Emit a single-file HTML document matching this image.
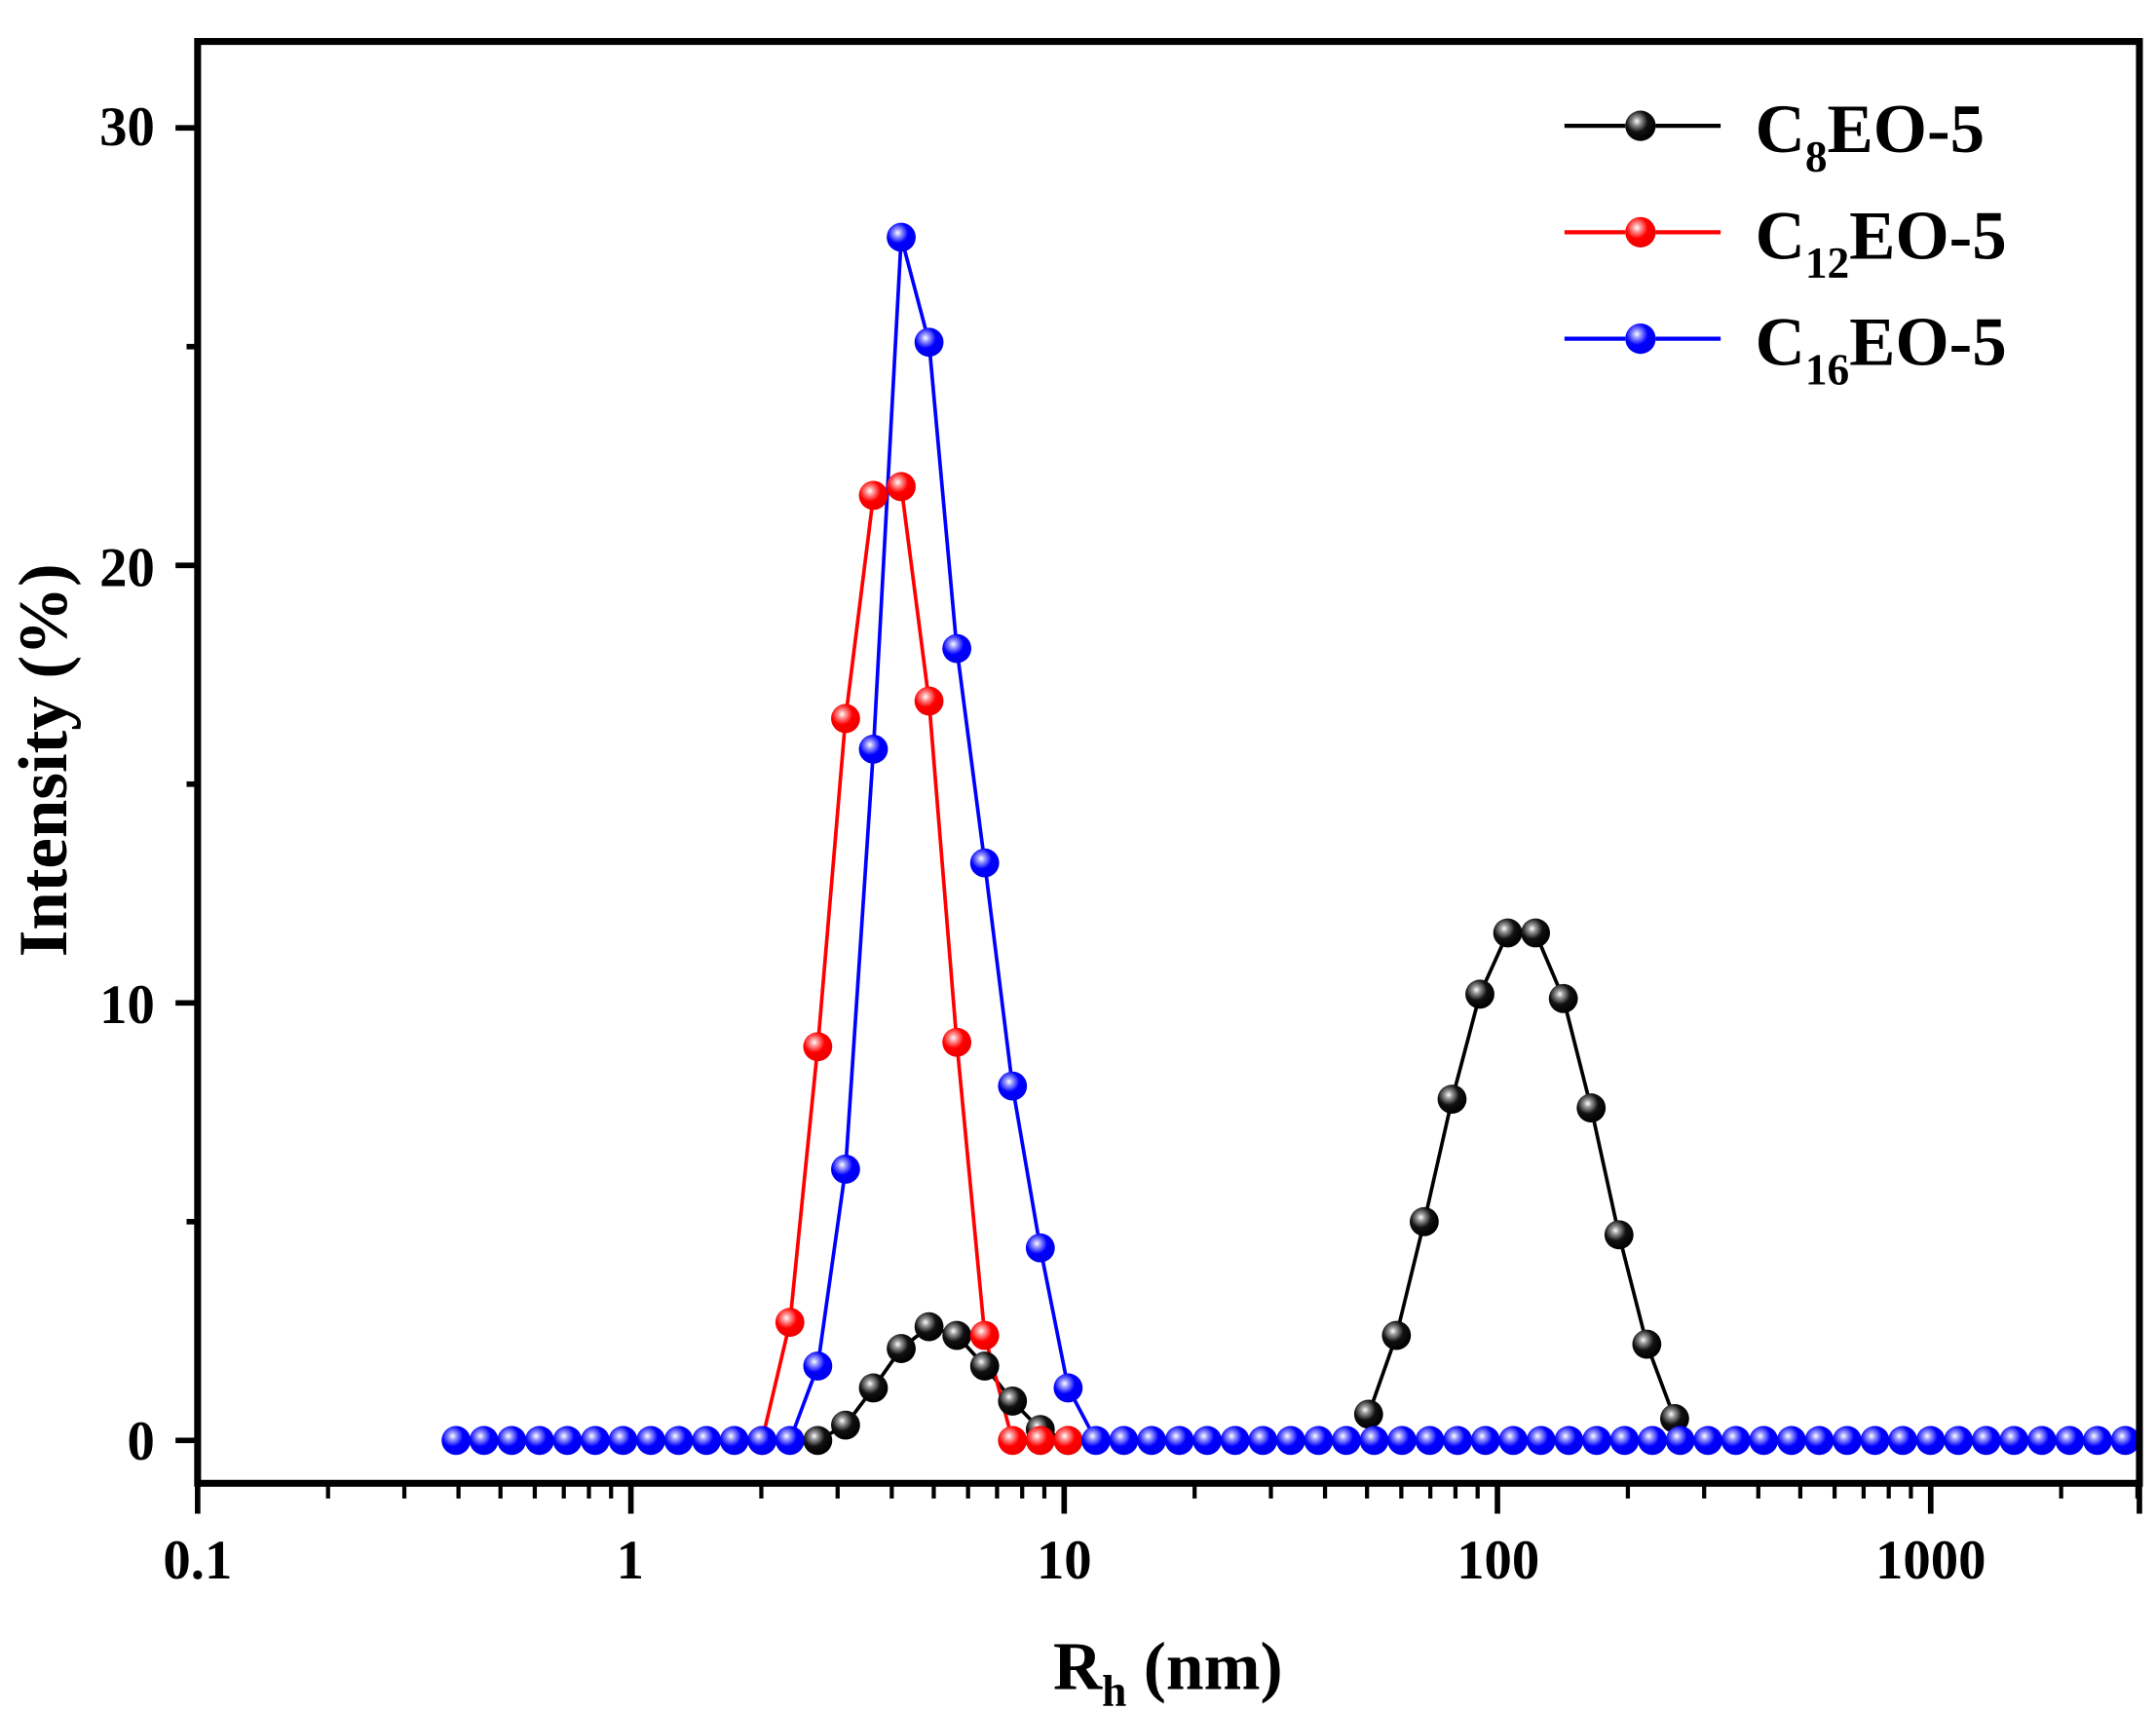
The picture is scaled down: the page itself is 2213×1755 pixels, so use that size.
<!DOCTYPE html>
<html><head><meta charset="utf-8"><style>
html,body{margin:0;padding:0;background:#fff;}
svg{display:block;}
text{font-family:"Liberation Serif",serif;font-weight:bold;fill:#000;}
</style></head><body>
<svg id="s" width="2213" height="1755" viewBox="0 0 1560 1237" preserveAspectRatio="none" xmlns="http://www.w3.org/2000/svg">
<defs>
<radialGradient id="gk" cx="0.38" cy="0.35" r="0.65"><stop offset="0" stop-color="#fff"/><stop offset="0.2" stop-color="#999"/><stop offset="0.55" stop-color="#111"/><stop offset="1" stop-color="#000"/></radialGradient>
<radialGradient id="gr" cx="0.38" cy="0.35" r="0.65"><stop offset="0" stop-color="#fff"/><stop offset="0.2" stop-color="#f99"/><stop offset="0.55" stop-color="#f00"/><stop offset="1" stop-color="#e00"/></radialGradient>
<radialGradient id="gb" cx="0.38" cy="0.35" r="0.65"><stop offset="0" stop-color="#fff"/><stop offset="0.2" stop-color="#99f"/><stop offset="0.55" stop-color="#00f"/><stop offset="1" stop-color="#00e"/></radialGradient>
</defs>
<g id="plot"></g>
<rect x="143" y="30" width="1405" height="1043" fill="none" stroke="#000" stroke-width="5"/>
<g id="ticks" stroke="#000" stroke-width="5"></g>
<g font-size="40" text-anchor="end">
<text x="112" y="105">30</text><text x="112" y="424">20</text><text x="112" y="740">10</text><text x="112" y="1056">0</text>
</g>
<g font-size="40" text-anchor="middle">
<text x="143" y="1142">0.1</text><text x="456" y="1142">1</text><text x="770" y="1142">10</text><text x="1084" y="1142">100</text><text x="1397" y="1142">1000</text>
</g>
<text font-size="50" text-anchor="middle" transform="translate(48,550) rotate(-90)">Intensity (%)</text>
<text font-size="49" x="762" y="1222">R<tspan font-size="32" dy="12">h</tspan><tspan dy="-12"> (nm)</tspan></text>
<g stroke-width="3">
<line x1="1132" y1="91" x2="1176" y2="91" stroke="#000"/><line x1="1198" y1="91" x2="1245" y2="91" stroke="#000"/>
<circle cx="1187" cy="91" r="11" fill="url(#gk)"/>
<line x1="1132" y1="168" x2="1176" y2="168" stroke="#f00"/><line x1="1198" y1="168" x2="1245" y2="168" stroke="#f00"/>
<circle cx="1187" cy="168" r="11" fill="url(#gr)"/>
<line x1="1132" y1="245" x2="1176" y2="245" stroke="#00f"/><line x1="1198" y1="245" x2="1245" y2="245" stroke="#00f"/>
<circle cx="1187" cy="245" r="11" fill="url(#gb)"/>
</g>
<g font-size="50">
<text x="1270" y="110">C<tspan font-size="32" dy="14">8</tspan><tspan dy="-14">EO-5</tspan></text>
<text x="1270" y="187">C<tspan font-size="32" dy="14">12</tspan><tspan dy="-14">EO-5</tspan></text>
<text x="1270" y="264">C<tspan font-size="32" dy="14">16</tspan><tspan dy="-14">EO-5</tspan></text>
</g>
</svg>
<script>
var NS="http://www.w3.org/2000/svg";
function X(i){return 330+20.13*i;}
function Y(v){return 1042-v*31.65;}
var plot=document.getElementById('plot');
function series(pts,color,grad){
  var d=pts.map(function(p,k){return (k?'L':'M')+X(p[0]).toFixed(1)+' '+Y(p[1]).toFixed(1);}).join(' ');
  var path=document.createElementNS(NS,'path');
  path.setAttribute('d',d);path.setAttribute('fill','none');path.setAttribute('stroke',color);path.setAttribute('stroke-width','2.6');
  plot.appendChild(path);
  return function(){pts.forEach(function(p){var c=document.createElementNS(NS,'circle');c.setAttribute('cx',X(p[0]));c.setAttribute('cy',Y(p[1]));c.setAttribute('r','10.5');c.setAttribute('fill','url(#'+grad+')');plot.appendChild(c);});};
}
var black=[[13,0],[14,0.35],[15,1.2],[16,2.1],[17,2.6],[18,2.4],[19,1.7],[20,0.9],[21,0.25],[22,0]];
var b2=[[32.8,0.6],[33.8,2.4],[34.8,5.0],[35.8,7.8],[36.8,10.2],[37.8,11.6],[38.8,11.6],[39.8,10.1],[40.8,7.6],[41.8,4.7],[42.8,2.2],[43.8,0.5]];
var red=[[11,0],[12,2.7],[13,9.0],[14,16.5],[15,21.6],[16,21.8],[17,16.9],[18,9.1],[19,2.4],[20,0],[21,0],[22,0]];
var bv={13:1.7,14:6.2,15:15.8,16:27.5,17:25.1,18:18.1,19:13.2,20:8.1,21:4.4,22:1.2};
var blue=[];for(var i=0;i<=60;i++)blue.push([i,bv[i]||0]);
var m1=series(black,'#000','gk');var m1b=series(b2,'#000','gk');
var m2=series(red,'#f00','gr');var m3=series(blue,'#00f','gb');
m1();m1b();m2();m3();
var t=document.getElementById('ticks');
function ln(x1,y1,x2,y2,w){var l=document.createElementNS(NS,'line');l.setAttribute('x1',x1);l.setAttribute('y1',y1);l.setAttribute('x2',x2);l.setAttribute('y2',y2);if(w)l.setAttribute('stroke-width',w);t.appendChild(l);}
for(var v=0;v<=30;v+=5){var y=Y(v);ln(143,y,v%10?135:127,y,4);}
for(var dcd=0;dcd<5;dcd++){var x0=143+313.5*dcd;ln(x0,1073,x0,1095,4);for(var k=2;k<10;k++){var x=x0+313.5*Math.log10(k);if(x<1548)ln(x,1073,x,1084,3);}}
ln(1548,1073,1548,1095,4);
</script>
</body></html>
